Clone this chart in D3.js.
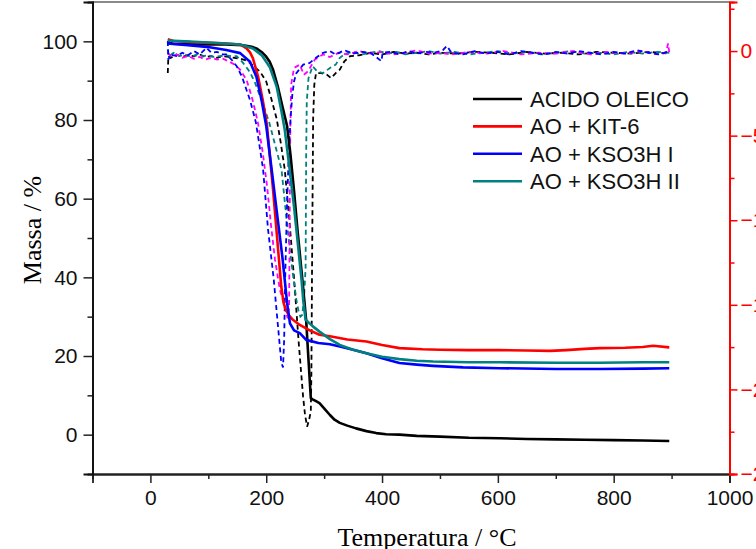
<!DOCTYPE html>
<html>
<head>
<meta charset="utf-8">
<script src="https://cdn.jsdelivr.net/npm/d3@7"></script>
<style>
  html, body { margin: 0; padding: 0; background: #fff; overflow: hidden; }
  svg { display: block; }
  .tick text { font-family: "Liberation Sans", Arial, sans-serif; }
</style>
</head>
<body>
<div id="chart"></div>
<script>
// TG curves (Massa / %) as [temperature, mass]
const tgAcido = [[30,99.6],[40,99.4],[60,99.3],[80,99.3],[100,99.2],[130,99.2],[160,99.0],[175,98.6],[183,98.2],[192,97.3],[200,96.1],[206,94.8],[212,92.7],[220,88.5],[228,83.4],[236,78.5],[242,71],[248,62],[254,52],[258,46],[263,38.5],[269,29],[273,19],[277,9.3],[280,9.0],[286,8.5],[292,8],[300,6.7],[310,5],[318,3.8],[327,3],[340,2.3],[355,1.6],[373,0.9],[390,0.4],[407,0.1],[430,0],[460,-0.3],[500,-0.5],[550,-0.8],[603,-0.9],[650,-1.1],[700,-1.2],[750,-1.3],[800,-1.4],[850,-1.5],[896,-1.6]];
const tgKit6 = [[30,100.5],[40,100.1],[70,99.8],[100,99.6],[126,99.5],[155,99.2],[166,98.2],[172,97.2],[177,95.7],[186,91],[194,85],[201,79],[212,62],[220,48],[226,37.6],[230,33.5],[234,31.7],[240,30.2],[246,29.2],[258,27.9],[275,26.5],[292,25.4],[310,25],[340,24.2],[373,23.7],[400,22.8],[430,22],[470,21.7],[500,21.6],[550,21.5],[603,21.5],[650,21.4],[690,21.3],[718,21.5],[750,21.8],[776,22],[820,22.1],[850,22.3],[868,22.6],[896,22.2]];
const tgKso3h1 = [[30,99.9],[34,99.4],[60,99.1],[97,98.6],[131,97.8],[155,97],[172,94.8],[183,91],[192,85],[200,78.5],[210,66.7],[220,54.6],[228,45],[232,39.3],[236,33.5],[241,28.3],[248,26.5],[258,25.8],[269,24.1],[290,23.3],[310,23],[327,22.4],[350,21.6],[373,20.7],[400,19.4],[430,18.2],[460,17.8],[488,17.5],[540,17.1],[603,16.9],[700,16.7],[776,16.7],[850,16.8],[896,16.9]];
const tgKso3h2 = [[30,100.2],[60,100],[100,99.7],[155,99.2],[177,98.2],[192,96.5],[206,93.5],[218,88.5],[226,82.5],[232,77.5],[240,68],[248,58],[255,48],[261,39.3],[264,34],[268,29.2],[280,27.6],[292,26.2],[310,24.3],[327,22.8],[350,21.6],[373,20.7],[400,19.8],[430,19.2],[460,18.8],[488,18.6],[550,18.4],[603,18.4],[700,18.3],[776,18.3],[850,18.4],[896,18.4]];

// DTG curves (right axis) as [temperature, derivative]
const dtgAcido = [[30,-1.3],[31,-0.3],[35,-0.4],[45,-0.2],[55,-0.35],[65,-0.25],[75,-0.3],[85,-0.2],[95,-0.35],[105,-0.3],[115,-0.4],[125,-0.3],[135,-0.35],[145,-0.4],[155,-0.45],[165,-0.55],[172,-0.7],[180,-0.95],[189,-1.2],[200,-1.8],[209,-2.85],[218,-4.0],[225,-5.4],[232,-7],[240,-10],[248,-13.4],[256,-17.2],[263.6,-20.4],[267,-21.5],[270.6,-22.2],[274,-21.8],[277,-21.3],[278,-19],[279,-13.5],[281,-4],[283,-2],[286,-1.3],[295,-1.3],[305,-1.4],[312,-1.6],[320,-1.3],[327,-1.1],[335,-0.6],[345,-0.3],[360,-0.25],[380,-0.1],[400,-0.2],[420,-0.05],[440,-0.15],[460,-0.1],[480,-0.2],[500,-0.1],[530,-0.15],[560,-0.05],[590,-0.1],[620,-0.2],[650,-0.05],[680,-0.15],[710,-0.1],[740,-0.2],[770,-0.05],[800,-0.1],[830,-0.15],[860,-0.05],[880,-0.1],[896,-0.15]];
const dtgKit6 = [[30,-0.1],[35,-0.3],[45,-0.2],[55,-0.4],[65,-0.3],[75,-0.45],[85,-0.35],[95,-0.5],[105,-0.4],[115,-0.5],[125,-0.45],[135,-0.6],[145,-0.8],[155,-1.1],[166,-1.7],[175,-2.7],[180,-3.4],[186,-4.3],[194,-6],[201.5,-8],[208,-10.2],[215,-12.3],[223.5,-14.1],[232,-15.1],[237,-15.8],[239.5,-15.2],[240.5,-10],[241.5,-5],[243,-2],[248,-1],[258,-0.8],[265,-1.4],[272,-1.2],[284,-0.5],[298,-0.2],[310,-0.35],[325,-0.1],[340,-0.2],[360,0],[380,-0.15],[400,-0.05],[420,-0.2],[440,-0.1],[460,0.05],[480,-0.15],[500,-0.1],[520,-0.2],[550,-0.05],[580,-0.15],[610,0],[640,-0.2],[670,-0.1],[700,-0.15],[730,0],[760,-0.2],[790,-0.05],[820,-0.15],[850,0],[875,-0.2],[890,-0.1],[894,0.45],[896,-0.1]];
const dtgKso3h1 = [[30,0.6],[31,-0.5],[35,-0.2],[45,-0.3],[55,-0.1],[65,-0.25],[75,0],[85,-0.2],[97,0.2],[105,-0.1],[115,-0.05],[125,-0.2],[131,-0.2],[140,-0.5],[149,-0.9],[158,-1.5],[166,-2.3],[172,-2.9],[177.5,-3.6],[182,-4.2],[188,-5.5],[194.6,-7],[203,-10.5],[208,-12],[213,-13.5],[218,-15.4],[222,-16.9],[226,-18.4],[229,-18.7],[231,-17],[233,-13],[236,-9],[239,-6],[242,-4],[245,-2.6],[248,-1.8],[252,-1.3],[264,-0.8],[275,-0.7],[286,-0.4],[298,-0.1],[310,0],[320,-0.2],[335,0.05],[350,-0.15],[365,-0.05],[380,-0.1],[399,-0.6],[401,-0.1],[415,-0.05],[430,-0.2],[445,0],[460,-0.15],[475,-0.05],[490,-0.1],[505,0.05],[512,0.3],[520,-0.1],[540,-0.2],[560,0],[580,-0.15],[600,-0.05],[620,-0.2],[640,0],[660,-0.1],[680,-0.2],[700,-0.05],[720,-0.15],[740,0],[760,-0.1],[780,-0.2],[800,-0.05],[820,-0.15],[840,0.05],[860,-0.1],[880,-0.2],[896,0]];
const dtgKso3h2 = [[30,0.1],[32,-0.3],[40,-0.1],[50,-0.3],[60,-0.2],[70,-0.35],[80,-0.2],[90,-0.3],[100,-0.25],[110,-0.35],[120,-0.3],[130,-0.25],[140,-0.3],[149,-0.3],[160,-0.7],[172,-1.25],[181,-1.9],[189,-2.65],[197,-3.4],[205,-4.2],[215,-5.5],[226.4,-7],[235,-9.9],[241,-11.8],[246.5,-13.3],[252,-14.7],[256,-15.4],[259,-15.7],[262,-15.6],[265,-14.8],[268,-12.8],[269,-6],[270,-3],[273,-1.6],[280,-0.9],[288,-1.2],[298,-1.3],[310,-1.0],[320,-0.8],[327,-0.4],[337,-0.15],[350,-0.05],[365,-0.2],[380,-0.1],[395,0],[410,-0.15],[425,-0.05],[440,-0.2],[460,-0.1],[480,0],[500,-0.15],[525,-0.05],[550,-0.2],[575,-0.1],[600,0],[625,-0.15],[650,-0.05],[675,-0.2],[700,-0.1],[725,0],[750,-0.15],[775,-0.1],[800,-0.2],[825,-0.05],[850,-0.15],[875,-0.05],[896,-0.1]];

const legendNames = ["ACIDO OLEICO", "AO + KIT-6", "AO + KSO3H I", "AO + KSO3H II"];
const xMajor = [0, 200, 400, 600, 800, 1000];
const xMinor = [-100, 100, 300, 500, 700, 900];
const yMajor = [0, 20, 40, 60, 80, 100];
const yMinor = [10, 30, 50, 70, 90];
const rMajor = [0, -5, -10, -15, -20, -25];
const rMinor = [2.5, -2.5, -7.5, -12.5, -17.5, -22.5];

const W = 756, H = 549;
const plotLeft = 92.5, plotRight = 729.5, plotTop = 2, plotBottom = 474;

const svg = d3.select("#chart").append("svg")
    .attr("width", W).attr("height", H);

const x = d3.scaleLinear().domain([-100, 1000]).range([plotLeft, plotRight]);
const y = d3.scaleLinear().domain([-10, 110]).range([plotBottom, plotTop]);
const yR = d3.scaleLinear().domain([-25, 2.9]).range([plotBottom, plotTop]);

// top frame
svg.append("line")
    .attr("x1", plotLeft).attr("x2", plotRight).attr("y1", plotTop).attr("y2", plotTop)
    .attr("stroke", "#8a8a8a").attr("stroke-width", 2);

// dashed DTG curves
const lineR = d3.line().x(d => x(d[0])).y(d => yR(d[1]));
const dtgs = [
    { data: dtgAcido, color: "#000000" },
    { data: dtgKso3h2, color: "#008080" },
    { data: dtgKit6, color: "#ff00ff" },
    { data: dtgKso3h1, color: "#0000ff" }
];
dtgs.forEach(s => {
    svg.append("path")
        .attr("d", lineR(s.data))
        .attr("fill", "none")
        .attr("stroke", s.color)
        .attr("stroke-width", 1.8)
        .attr("stroke-dasharray", "5,3.5");
});

// solid TG curves
const line = d3.line().x(d => x(d[0])).y(d => y(d[1]));
const colors = ["#000000", "#ff0000", "#0000ff", "#008080"];
const tgs = [tgAcido, tgKit6, tgKso3h1, tgKso3h2];
tgs.forEach((s, i) => {
    svg.append("path")
        .attr("d", line(s))
        .attr("fill", "none")
        .attr("stroke", colors[i])
        .attr("stroke-width", 2.6)
        .attr("stroke-linejoin", "round");
});

// bottom axis
const gx = svg.append("g").attr("transform", `translate(0,${plotBottom})`);
gx.call(d3.axisBottom(x).tickValues(xMajor).tickSize(9).tickPadding(7).tickFormat(d3.format("d")));
gx.append("g").call(d3.axisBottom(x).tickValues(xMinor).tickSize(5).tickFormat(""));
gx.selectAll("path").attr("stroke", "#222").attr("stroke-width", 1.8);
gx.selectAll("line").attr("stroke", "#222").attr("stroke-width", 1.5);
gx.selectAll(".tick text").attr("font-size", 21).attr("fill", "#111");

// left axis
const gy = svg.append("g").attr("transform", `translate(${plotLeft},0)`);
gy.call(d3.axisLeft(y).tickValues(yMajor).tickSize(9).tickPadding(6));
gy.append("g").call(d3.axisLeft(y).tickValues(yMinor).tickSize(5).tickFormat(""));
gy.selectAll("path").attr("stroke", "#111").attr("stroke-width", 1.8);
gy.selectAll("line").attr("stroke", "#222").attr("stroke-width", 1.5);
gy.selectAll(".tick text").attr("font-size", 21).attr("fill", "#111");

// right axis (red)
const gr = svg.append("g").attr("transform", `translate(${plotRight},0)`);
gr.call(d3.axisRight(yR).tickValues(rMajor).tickSize(8).tickPadding(3));
gr.append("g").call(d3.axisRight(yR).tickValues(rMinor).tickSize(5).tickFormat(""));
gr.selectAll("path").attr("stroke", "#ff0000").attr("stroke-width", 2);
gr.selectAll("line").attr("stroke", "#ff0000").attr("stroke-width", 1.5);
gr.selectAll(".tick text").attr("font-size", 21).attr("fill", "#ff0000");

// axis titles
svg.append("text")
    .attr("x", 427).attr("y", 546)
    .attr("text-anchor", "middle")
    .attr("font-family", "Liberation Serif, Times New Roman, serif")
    .attr("font-size", 26)
    .text("Temperatura / °C");

svg.append("text")
    .attr("transform", "translate(41,230) rotate(-90)")
    .attr("text-anchor", "middle")
    .attr("font-family", "Liberation Serif, Times New Roman, serif")
    .attr("font-size", 26)
    .text("Massa / %");

// legend
const legend = svg.append("g").attr("transform", "translate(473,99)");
legendNames.forEach((name, i) => {
    const row = legend.append("g").attr("transform", `translate(0,${i * 27.4})`);
    row.append("line")
        .attr("x1", 0).attr("x2", 49).attr("y1", 0).attr("y2", 0)
        .attr("stroke", colors[i]).attr("stroke-width", 2.6);
    row.append("text")
        .attr("x", 57).attr("y", 0).attr("dy", "0.36em")
        .attr("font-family", "Liberation Sans, Arial, sans-serif")
        .attr("font-size", 22)
        .attr("fill", "#111")
        .text(name);
});
</script>
</body>
</html>
